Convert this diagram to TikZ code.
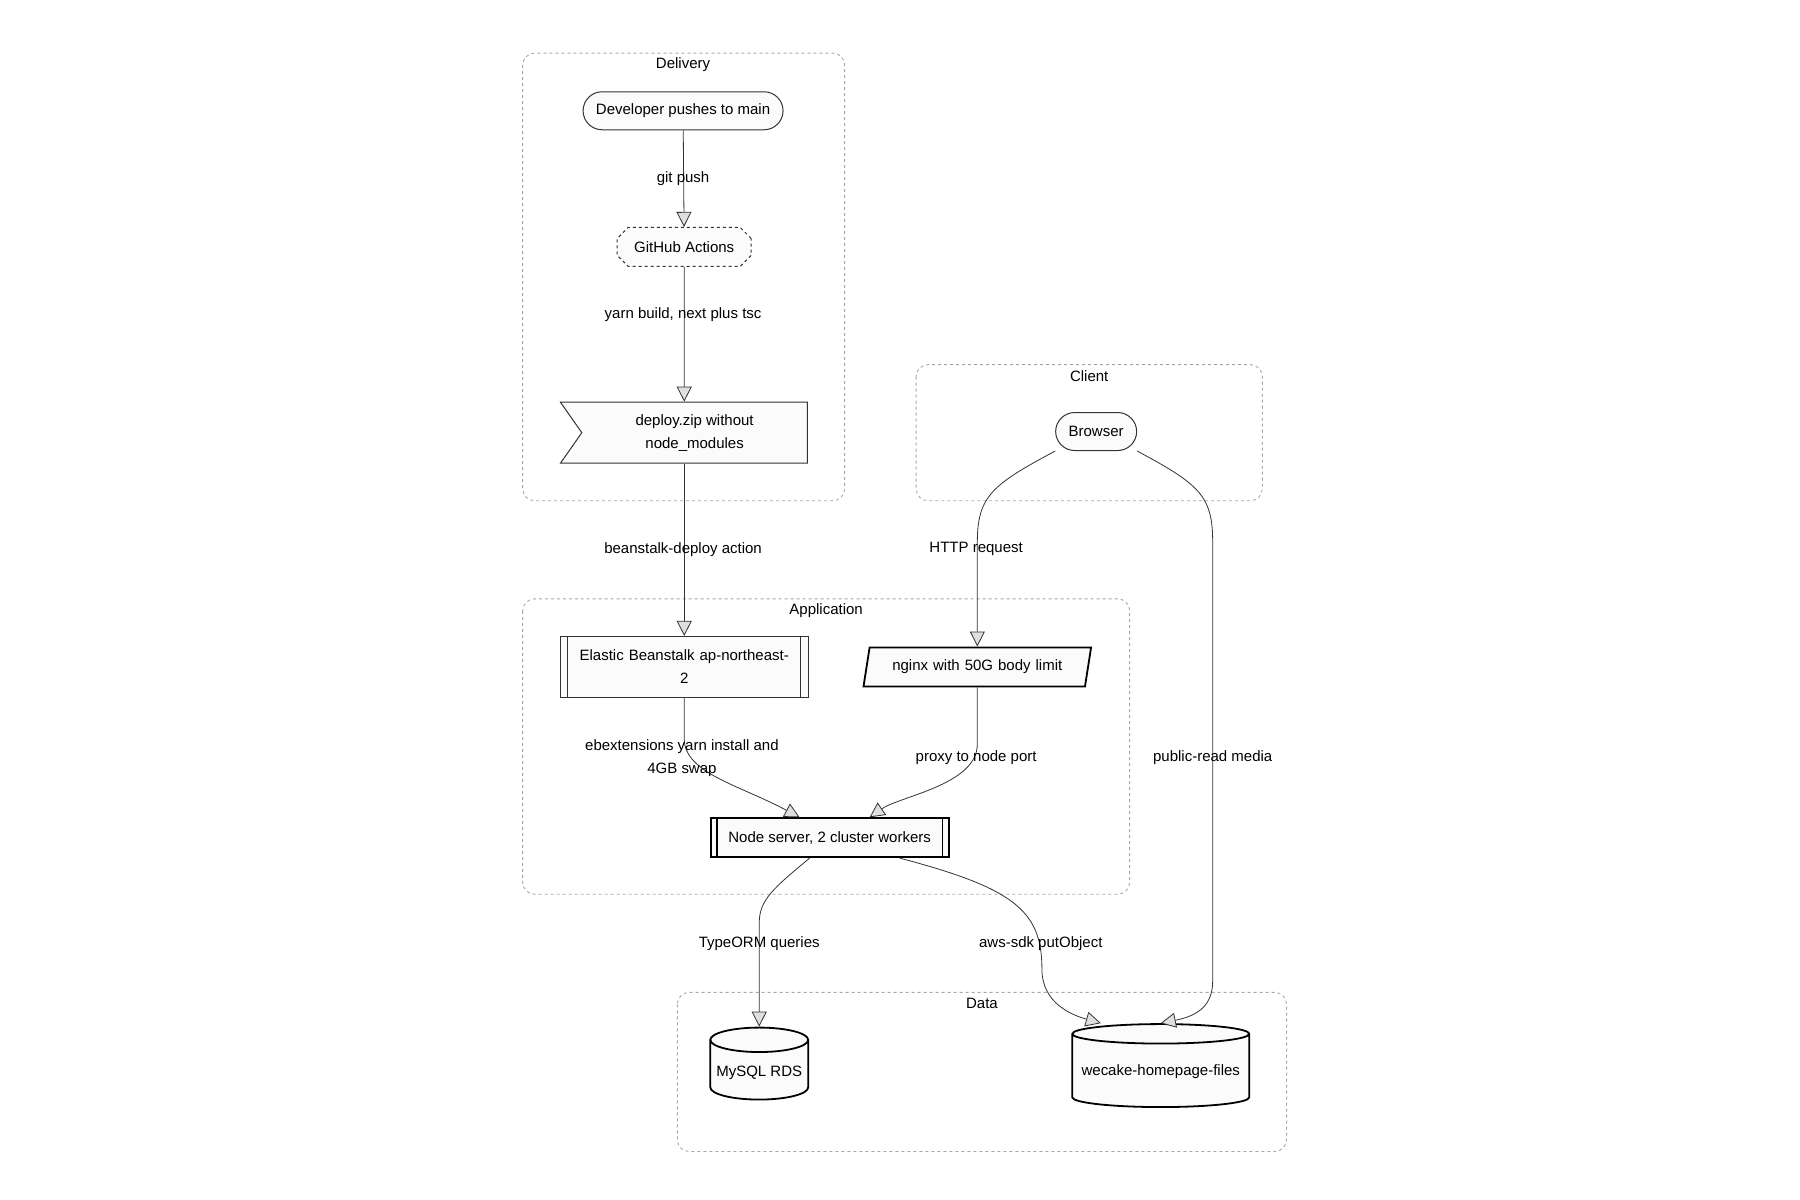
\documentclass[tikz,border=0pt]{standalone}
\usepackage{fontspec}
\setmainfont{Liberation Sans}
\usetikzlibrary{shapes.geometric,shapes.misc,shapes.symbols,arrows.meta}
\begin{document}
\begin{tikzpicture}[x=1.154pt,y=-1.154pt,
                    font=\fontsize{15}{23}\selectfont,
                    line width=1pt,
                    >={Triangle[length=15pt,width=15pt,fill=gray!25,line width=0.8pt]}]
    \tikzstyle{box}=[draw=black!80,fill=gray!3,align=center,inner sep=2pt]
    \tikzstyle{cluster}=[draw=gray!70,dashed,rounded corners=12pt,line width=0.9pt]
    \tikzstyle{link}=[draw=black!80,line width=0.8pt,->]
    \tikzstyle{lbl}=[font=\fontsize{15}{23}\selectfont,align=center]

    \useasboundingbox (0,0) rectangle (1560,1040);

    % clusters
    \draw[cluster] (453,46) rectangle (732,434);
    \node[lbl] at (592,56) {Delivery};
    \draw[cluster] (794,316) rectangle (1094,434);
    \node[lbl] at (944,326) {Client};
    \draw[cluster] (453,519) rectangle (979,775);
    \node[lbl] at (716,529) {Application};
    \draw[cluster] (587,860) rectangle (1115,998);
    \node[lbl] at (851,870) {Data};

    % nodes
    \node[box,rounded corners=19pt,minimum width=200pt,minimum height=38pt] (dev) at (592,96) {Developer pushes to main};
    \node[box,dashed,chamfered rectangle,chamfered rectangle xsep=8pt,minimum width=134pt,minimum height=39pt] (gha) at (593,214) {GitHub Actions};
    \node[box,signal,signal to=nowhere,signal from=west,signal pointer angle=110,minimum width=247pt,minimum height=61pt] (zip) at (602,375) {deploy.zip without\\node\_modules};
    \node[box,rounded corners=19pt,minimum width=81pt,minimum height=38pt] (browser) at (950,374) {Browser};
    \node[box,minimum width=248pt,minimum height=61pt,text width=220pt] (eb) at (593,578) {Elastic Beanstalk ap-northeast-\\2};
    \draw[black!80,line width=0.8pt] ([xshift=8pt]eb.north west) -- ([xshift=8pt]eb.south west)
        ([xshift=-8pt]eb.north east) -- ([xshift=-8pt]eb.south east);
    \node[box,draw=black,line width=1.8pt,trapezium,trapezium left angle=70,trapezium right angle=110,trapezium stretches=true,minimum width=228pt,minimum height=39pt,inner xsep=0pt,inner ysep=0pt,text width=180pt] (nginx) at (847,578) {nginx with 50G body limit};
    \node[box,draw=black,line width=1.8pt,minimum width=238pt,minimum height=39pt] (node) at (719,726) {Node server, 2 cluster workers};
    \draw[black,line width=1.8pt] ([xshift=7pt]node.north west) -- ([xshift=7pt]node.south west)
        ([xshift=-7pt]node.north east) -- ([xshift=-7pt]node.south east);
    \node[box,draw=black,line width=1.8pt,cylinder,shape border rotate=90,aspect=0.25,minimum width=92pt,minimum height=72pt,inner xsep=6pt] (rds) at (658,930) {MySQL RDS};
    \node[box,draw=black,line width=1.8pt,cylinder,shape border rotate=90,aspect=0.12,minimum width=177pt,minimum height=83pt] (files) at (1006,929) {wecake-homepage-files};

    % connectors
    \draw[link] (dev) -- (gha);
    \node[lbl] at (592,155) {git push};
    \draw[link] (gha) -- (gha |- zip.north);
    \node[lbl] at (592,273) {yarn build, next plus tsc};
    \draw[link] (eb |- zip.south) -- (eb);
    \node[lbl] at (592,476) {beanstalk-deploy action};
    \draw[link] (browser.south west) .. controls (860,420) and (847,430) .. (847,470) -- (nginx.north);
    \node[lbl] at (846,476) {HTTP request};
    \draw[link] (browser.south east) .. controls (1040,420) and (1051,430) .. (1051,470) -- (1051,850) .. controls (1051,870) and (1040,880) .. (files.north);
    \node[lbl] at (1051,657) {public-read media};
    \draw[link] (eb.south) -- (593,640) .. controls (593,670) and (640,680) .. ([xshift=-30pt]node.north);
    \node[lbl] at (591,657) {ebextensions yarn install and\\4GB swap};
    \draw[link] (nginx.south) -- (847,645) .. controls (847,680) and (780,690) .. ([xshift=40pt]node.north);
    \node[lbl] at (846,657) {proxy to node port};
    \draw[link] ([xshift=-20pt]node.south) .. controls (670,770) and (658,780) .. (658,800) -- (rds.north);
    \node[lbl] at (658,818) {TypeORM queries};
    \draw[link] ([xshift=70pt]node.south) .. controls (880,770) and (903,790) .. (903,840) .. controls (903,870) and (930,880) .. ([xshift=-60pt]files.north);
    \node[lbl] at (902,818) {aws-sdk putObject};
\end{tikzpicture}
\end{document}
